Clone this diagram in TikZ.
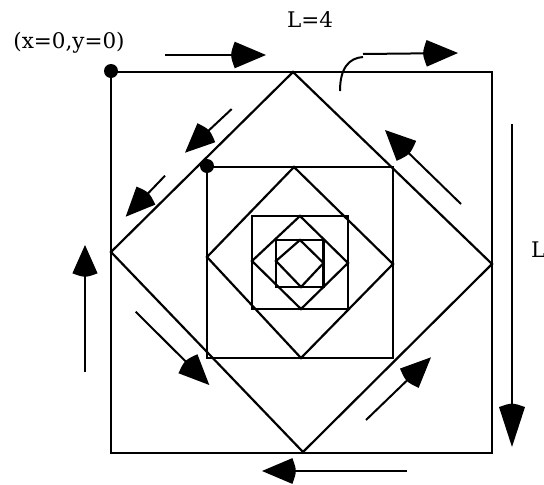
\documentclass[tikz,border=0pt]{standalone}
\usepackage{fontspec}
\setmainfont{DejaVu Serif}
\usetikzlibrary{calc}
\newcommand\myarrow[4]{%
  \draw[arr] (#1) -- ($(#2)!0.7*#3!(#1)$);
  \fill (#2) -- ($(#2)!#3!#4:(#1)$) .. controls ($(#2)!1.06*#3!(#1)$) .. ($(#2)!#3!-#4:(#1)$) -- cycle;}
\begin{document}
\begin{tikzpicture}[x=1pt,y=-1pt,
  outl/.style={line width=2.2pt, line join=miter},
  arr/.style={line width=2pt},
  dot/.style={circle, fill, inner sep=0pt, minimum size=14pt},
  lbl/.style={inner sep=0pt, font=\fontsize{21.5}{26}\selectfont}]
\useasboundingbox (0,0) rectangle (544,485);
% squares and diamonds
\draw[outl] (111,72) rectangle (492,453);
\draw[outl] (293,72) -- (111,252) -- (303,452) -- (492,264) -- cycle;
\draw[outl] (207,167) rectangle (393,358);
\draw[outl] (294,167) -- (207,257) -- (301,358) -- (393,264) -- cycle;
\draw[outl] (252,216) rectangle (348,309);
\draw[outl] (300,216) -- (252,261) -- (301,309) -- (348,263) -- cycle;
\draw[outl] (276,240) rectangle (323.5,287);
\draw[outl] (300,240) -- (276,261) -- (301,287) -- (323.5,263) -- cycle;
% dots
\node[dot] (o1) at (111,71) {};
\node[dot] (o2) at (207,166) {};
% labels
\node[lbl] (origin) at (69,43) {(x=0,y=0)};
\node[lbl] (ltop) at (310,20) {L=4};
\node[lbl, anchor=west] (lright) at (531,250) {L};
% arrows
\myarrow{165,55}{266,55}{34pt}{23}
\draw[arr] (340,91) .. controls (340,68) and (349,58) .. (363,57);
\myarrow{363,54}{458,53}{34pt}{23}
\myarrow{231.7,109}{185,152.7}{32pt}{24}
\myarrow{165,175.7}{125.7,216.7}{32pt}{24}
\myarrow{461,204}{385,130}{33pt}{25}
\myarrow{512,124}{512,447}{42pt}{18}
\myarrow{85,372}{85,245}{31pt}{24}
\myarrow{135.7,311.7}{209.3,385}{33pt}{24}
\myarrow{366,420}{431,357.3}{33pt}{24}
\myarrow{407,471}{262,471}{33pt}{23}
\end{tikzpicture}
\end{document}
